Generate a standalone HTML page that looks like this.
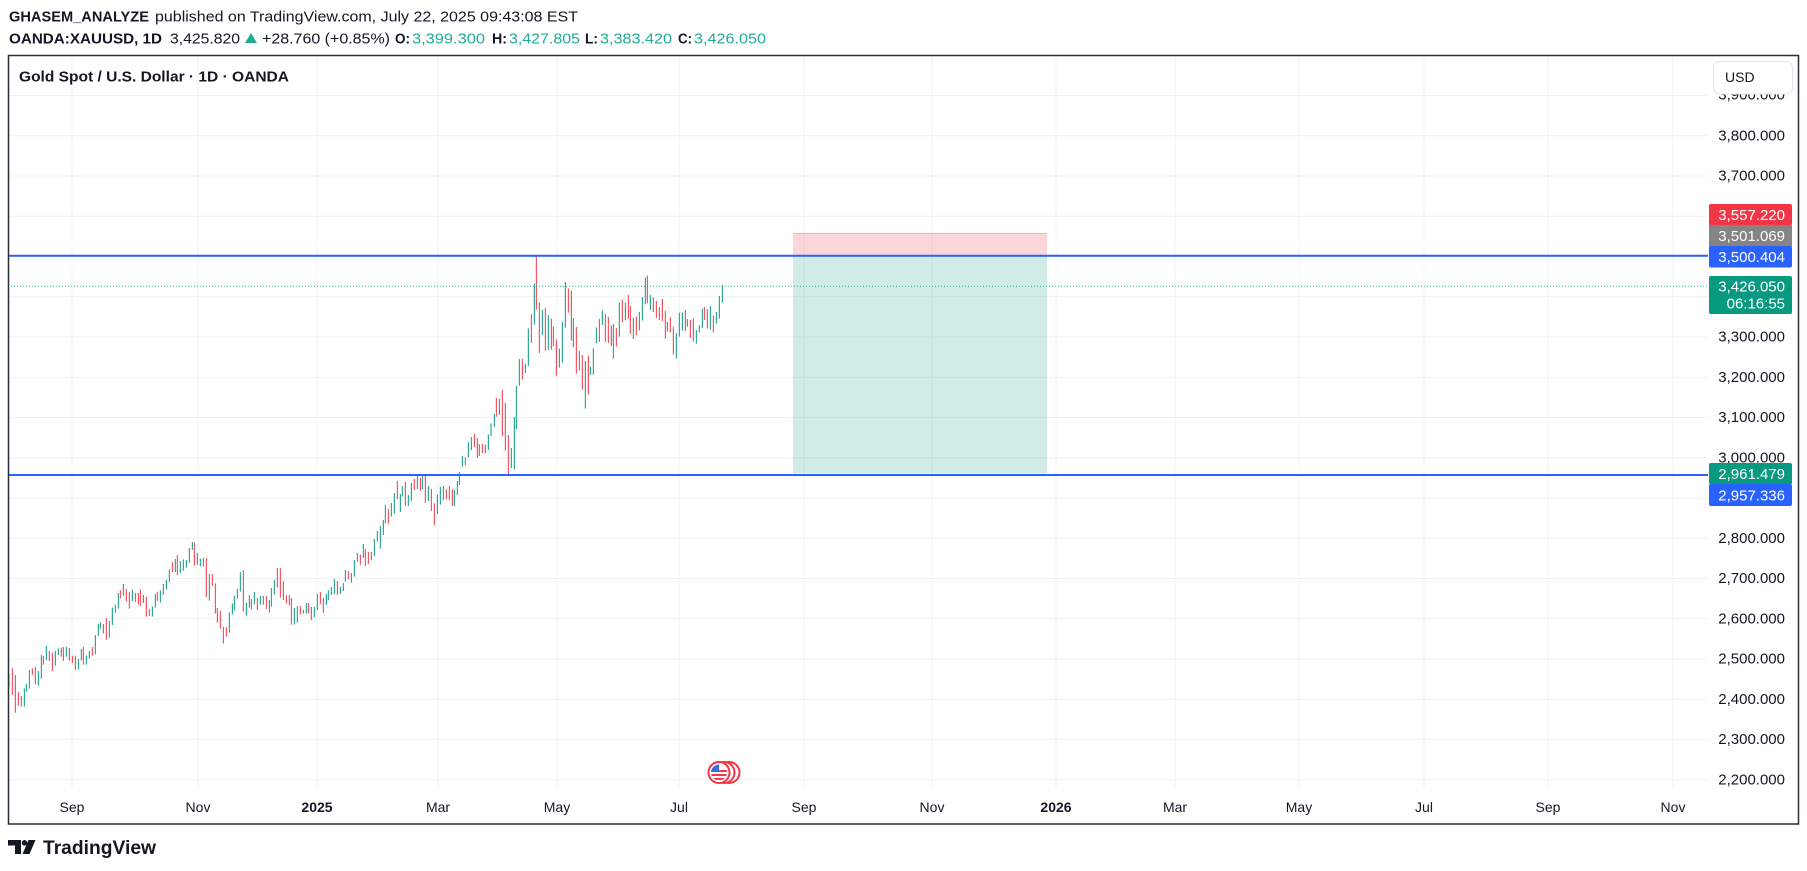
<!DOCTYPE html>
<html><head><meta charset="utf-8"><style>
html,body{margin:0;padding:0;background:#fff;}
svg{display:block;}
text{font-family:"Liberation Sans",sans-serif;fill:#131722;}
</style></head><body>
<svg width="1807" height="871" viewBox="0 0 1807 871" xmlns="http://www.w3.org/2000/svg">
<rect x="0" y="0" width="1807" height="871" fill="#fff"/>

<!-- header -->
<text x="9" y="21.7" font-size="14.5" font-weight="bold" textLength="140" lengthAdjust="spacingAndGlyphs">GHASEM_ANALYZE</text>
<text x="155" y="21.7" font-size="14.5" textLength="423" lengthAdjust="spacingAndGlyphs">published on TradingView.com, July 22, 2025 09:43:08 EST</text>
<text x="9" y="43.3" font-size="14.5" font-weight="bold" textLength="153" lengthAdjust="spacingAndGlyphs">OANDA:XAUUSD, 1D</text>
<text x="170" y="43.3" font-size="14.5" textLength="70" lengthAdjust="spacingAndGlyphs">3,425.820</text>
<polygon points="245,43 251,33 257,43" fill="#22ab94"/>
<text x="262" y="43.3" font-size="14.5" textLength="128" lengthAdjust="spacingAndGlyphs">+28.760 (+0.85%)</text>
<text x="395" y="43.3" font-size="14.5" font-weight="bold" textLength="15" lengthAdjust="spacingAndGlyphs">O:</text>
<text x="412" y="43.3" font-size="14.5" style="fill:#22ab94" textLength="73" lengthAdjust="spacingAndGlyphs">3,399.300</text>
<text x="492" y="43.3" font-size="14.5" font-weight="bold" textLength="15" lengthAdjust="spacingAndGlyphs">H:</text>
<text x="509" y="43.3" font-size="14.5" style="fill:#22ab94" textLength="71" lengthAdjust="spacingAndGlyphs">3,427.805</text>
<text x="585" y="43.3" font-size="14.5" font-weight="bold" textLength="13" lengthAdjust="spacingAndGlyphs">L:</text>
<text x="600" y="43.3" font-size="14.5" style="fill:#22ab94" textLength="72" lengthAdjust="spacingAndGlyphs">3,383.420</text>
<text x="678" y="43.3" font-size="14.5" font-weight="bold" textLength="14" lengthAdjust="spacingAndGlyphs">C:</text>
<text x="694" y="43.3" font-size="14.5" style="fill:#22ab94" textLength="72" lengthAdjust="spacingAndGlyphs">3,426.050</text>

<!-- grid -->
<g stroke="#eff0f3" stroke-width="1">
<path d="M8 94.75H1708M8 135H1708M8 175.25H1708M8 215.5H1708M8 255.75H1708M8 296H1708M8 336.25H1708M8 376.5H1708M8 416.75H1708M8 457H1708M8 497.25H1708M8 537.5H1708M8 577.75H1708M8 618H1708M8 658.25H1708M8 698.5H1708M8 738.75H1708M8 779H1708" transform="translate(0,0.7)"/>
<path d="M72 55V788M198 55V788M317 55V788M438 55V788M557 55V788M679 55V788M804 55V788M932 55V788M1056 55V788M1175 55V788M1299 55V788M1424 55V788M1548 55V788M1673 55V788"/>
</g>

<!-- position box -->
<rect x="793" y="233" width="254" height="22.7" fill="#f23645" fill-opacity="0.2"/>
<line x1="793" y1="233.5" x2="1047" y2="233.5" stroke="#f23645" stroke-opacity="0.25" stroke-width="1"/>
<rect x="793" y="255.7" width="254" height="217.6" fill="#089981" fill-opacity="0.19"/>

<!-- candles -->
<g transform="translate(5,500) scale(0.33333)" stroke-width="3" fill="none">
<path stroke="#f23645" d="M12 522V560 M22 505V585 M31 525V638 M40 576V618 M49 588V620 M82 505V525 M91 501V552 M115 468V494 M133 453V483 M142 458V513 M169 443V470 M175 441V483 M193 444V482 M202 467V489 M211 467V510 M235 441V494 M262 441V467 M295 372V401 M304 354V419 M346 270V296 M364 267V304 M373 276V326 M391 279V306 M400 279V313 M406 268V318 M415 285V309 M424 291V350 M433 327V348 M457 276V303 M502 186V216 M517 165V225 M568 127V197 M577 159V194 M604 174V291 M622 222V257 M631 250V341 M637 324V368 M646 333V386 M655 380V431 M664 381V410 M715 211V335 M739 297V328"/>
<path stroke="#089981" d="M58 565V620 M64 552V575 M73 510V566 M100 513V557 M109 465V536 M124 438V480 M151 453V497 M160 445V465 M184 441V470 M220 477V508 M229 447V481 M244 467V494 M253 453V476 M271 405V463 M280 372V408 M286 368V386 M313 363V413 M322 323V375 M331 314V338 M340 279V326 M355 252V287 M382 269V303 M442 319V350 M451 282V323 M466 271V308 M475 252V285 M484 240V269 M493 208V246 M511 177V216 M526 183V219 M535 178V212 M544 180V203 M553 144V188 M562 126V150 M586 176V198 M595 174V200 M613 222V302 M673 337V398 M682 310V344 M688 288V331 M697 267V296 M706 216V275 M724 307V347 M733 285V323 M748 276V313"/>
</g>
<g transform="translate(250,400) scale(0.33333)" stroke-width="3" fill="none">
<path stroke="#f23645" d="M22 594V630 M49 588V627 M82 504V563 M91 504V593 M100 543V600 M109 585V610 M118 585V616 M124 594V674 M151 618V644 M175 609V641 M184 621V660 M211 576V612 M220 594V639 M262 543V585 M295 513V537 M331 464V495 M346 447V498 M355 456V492 M364 456V480 M415 327V371 M442 243V297 M466 246V318 M493 237V270 M511 234V272 M526 228V309 M544 267V333 M553 310V375 M589 267V297 M598 258V300 M607 267V318 M673 102V141 M682 114V174 M688 132V168 M697 132V159 M706 135V159"/>
<path stroke="#089981" d="M31 588V614 M40 588V614 M58 600V638 M64 564V620 M73 540V584 M133 624V674 M142 618V668 M160 630V641 M169 609V641 M193 621V651 M202 582V630 M229 582V615 M235 570V600 M244 561V585 M253 537V582 M271 561V582 M280 549V573 M286 510V545 M304 519V548 M313 480V530 M322 459V485 M340 432V474 M373 417V468 M382 393V425 M391 378V446 M400 360V405 M406 315V370 M424 309V350 M433 279V341 M451 282V336 M457 258V290 M475 285V318 M484 249V303 M502 228V267 M517 228V267 M535 258V303 M562 284V342 M571 261V314 M580 258V300 M613 270V318 M622 243V285 M628 216V255 M637 168V200 M646 172V195 M655 126V172 M664 111V150 M715 103V150"/>
</g>
<g transform="translate(490,240) scale(0.33333)" stroke-width="3" fill="none">
<path stroke="#f23645" d="M19 474V530 M37 450V588 M46 489V632 M55 585V705 M97 357V419 M124 222V309 M139 47V209 M148 187V339 M166 204V332 M184 236V329 M190 260V318 M199 299V407 M235 145V218 M244 152V302 M259 261V401 M277 345V449 M295 347V464 M328 237V306 M346 222V306 M355 231V309 M364 257V318 M379 264V320 M397 180V247 M415 165V236 M421 198V281 M439 230V286 M472 107V190 M490 172V216 M499 183V234 M508 201V240 M517 177V243 M526 213V296 M541 232V277 M550 261V344 M586 210V273 M601 240V294 M610 235V305 M643 201V240 M652 208V266 M670 227V278"/>
<path stroke="#089981" d="M3 550V588 M13 522V561 M28 477V525 M64 624V684 M73 531V689 M79 438V567 M88 357V437 M106 372V399 M115 265V378 M133 131V254 M157 210V285 M175 225V330 M208 326V383 M217 246V368 M226 126V263 M250 235V321 M268 333V392 M286 363V506 M301 380V405 M310 325V404 M319 262V310 M337 211V255 M370 252V356 M388 188V290 M406 188V241 M430 233V297 M448 216V271 M457 171V242 M466 113V193 M481 165V210 M532 246V274 M559 279V356 M568 218V290 M577 218V272 M592 237V260 M619 270V311 M628 255V278 M637 207V264 M661 198V269 M679 216V251 M688 168V236 M697 135V188"/>
</g>

<!-- horizontal lines -->
<line x1="8" y1="286.3" x2="1708" y2="286.3" stroke="#22ab94" stroke-width="1" stroke-dasharray="1 2"/>
<line x1="8" y1="255.7" x2="1708" y2="255.7" stroke="#2962ff" stroke-width="2"/>
<line x1="8" y1="475" x2="1708" y2="475" stroke="#2962ff" stroke-width="2"/>

<!-- event flag icon -->
<g>
<circle cx="729" cy="772.5" r="10.5" fill="#fff" stroke="#f23645" stroke-width="2"/>
<circle cx="724" cy="772.5" r="10.5" fill="#fff" stroke="#f23645" stroke-width="2"/>
<circle cx="719" cy="772.5" r="10.5" fill="#fff" stroke="#f23645" stroke-width="2"/>
<clipPath id="fc"><circle cx="719" cy="772.5" r="8"/></clipPath>
<g clip-path="url(#fc)">
<rect x="710" y="764" width="18" height="18" fill="#fff"/>
<rect x="710" y="770" width="18" height="2" fill="#f23645"/>
<rect x="710" y="774" width="18" height="2" fill="#f23645"/>
<rect x="710" y="778" width="18" height="2" fill="#f23645"/>
<rect x="710" y="764" width="9" height="8" fill="#3b6fe0"/>
</g>
</g>

<!-- title -->
<text x="19" y="81.7" font-size="14.5" font-weight="bold" textLength="270" lengthAdjust="spacingAndGlyphs">Gold Spot / U.S. Dollar · 1D · OANDA</text>

<!-- price axis labels -->
<g font-size="15" text-anchor="end">
<text x="1785" y="99.5">3,900.000</text>
<text x="1785" y="140.5">3,800.000</text>
<text x="1785" y="180.7">3,700.000</text>
<text x="1785" y="341.7">3,300.000</text>
<text x="1785" y="382">3,200.000</text>
<text x="1785" y="422.2">3,100.000</text>
<text x="1785" y="462.5">3,000.000</text>
<text x="1785" y="543">2,800.000</text>
<text x="1785" y="583.2">2,700.000</text>
<text x="1785" y="623.5">2,600.000</text>
<text x="1785" y="663.7">2,500.000</text>
<text x="1785" y="704">2,400.000</text>
<text x="1785" y="744.2">2,300.000</text>
<text x="1785" y="784.5">2,200.000</text>
</g>

<!-- price tags -->
<rect x="1709" y="204" width="83" height="21.5" rx="2" fill="#f23645"/>
<rect x="1709" y="225" width="83" height="21.5" fill="#848484"/>
<rect x="1709" y="246" width="83" height="21.5" rx="2" fill="#2962ff"/>
<rect x="1709" y="276" width="83" height="38" rx="2" fill="#089981"/>
<rect x="1709" y="463" width="83" height="21.5" rx="2" fill="#089981"/>
<rect x="1709" y="484" width="83" height="22" rx="2" fill="#2962ff"/>
<g font-size="15" text-anchor="end">
<text x="1785" y="220" style="fill:#fff">3,557.220</text>
<text x="1785" y="241" style="fill:#fff">3,501.069</text>
<text x="1785" y="262" style="fill:#fff">3,500.404</text>
<text x="1785" y="291.5" style="fill:#fff">3,426.050</text>
<text x="1785" y="308.5" style="fill:#fff">06:16:55</text>
<text x="1785" y="479" style="fill:#fff">2,961.479</text>
<text x="1785" y="500.5" style="fill:#fff">2,957.336</text>
</g>

<!-- USD box -->
<rect x="1713.5" y="61.5" width="79" height="32.5" rx="6" fill="#fff" stroke="#e0e3eb" stroke-width="1"/>
<text x="1725" y="82" font-size="14">USD</text>

<!-- time axis -->
<g font-size="14" text-anchor="middle">
<text x="72" y="812">Sep</text>
<text x="198" y="812">Nov</text>
<text x="317" y="812" font-weight="bold">2025</text>
<text x="438" y="812">Mar</text>
<text x="557" y="812">May</text>
<text x="679" y="812">Jul</text>
<text x="804" y="812">Sep</text>
<text x="932" y="812">Nov</text>
<text x="1056" y="812" font-weight="bold">2026</text>
<text x="1175" y="812">Mar</text>
<text x="1299" y="812">May</text>
<text x="1424" y="812">Jul</text>
<text x="1548" y="812">Sep</text>
<text x="1673" y="812">Nov</text>
</g>

<!-- chart border -->
<rect x="8.5" y="55.5" width="1790" height="768.5" fill="none" stroke="#2a2e39" stroke-width="1.5"/>

<!-- logo -->
<g fill="#131722">
<path d="M8 840H21V854H15V845.5H8Z"/>
<circle cx="24.5" cy="842.8" r="2.8"/>
<path d="M28.5 840H35.5L29.5 854H22.5Z"/>
</g>
<text x="43" y="854" font-size="19.5" font-weight="bold" textLength="113" lengthAdjust="spacingAndGlyphs">TradingView</text>
</svg>
</body></html>
